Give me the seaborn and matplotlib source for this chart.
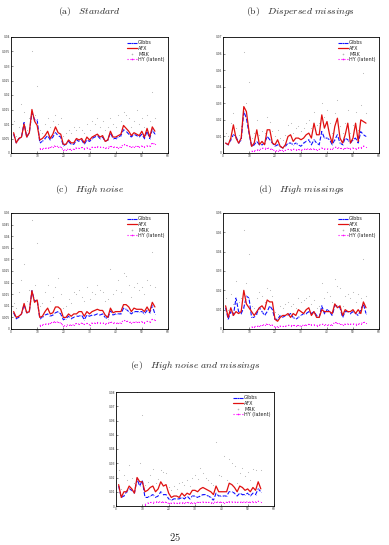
import numpy as np
import pandas as pd
import matplotlib
matplotlib.use('Agg')
import matplotlib.pyplot as plt
import seaborn as sns

sns.set_style('ticks')
plt.rcParams['font.family'] = ['DejaVu Sans']
plt.rcParams['mathtext.fontset'] = 'cm'

# series index (1..55), HY only from 11 on
t_all = list(range(1, 56))
t_hy = list(range(11, 56))

gibbs_a = [0.0065, 0.0035, 0.0050, 0.0055, 0.0105, 0.0055, 0.0070, 0.0140, 0.0115, 0.0115,
           0.0035, 0.0040, 0.0050, 0.0060, 0.0045, 0.0055, 0.0070, 0.0060, 0.0055, 0.0025,
           0.0030, 0.0040, 0.0030, 0.0030, 0.0045, 0.0040, 0.0045, 0.0030, 0.0045, 0.0040,
           0.0050, 0.0055, 0.0060, 0.0050, 0.0055, 0.0040, 0.0045, 0.0070, 0.0050, 0.0050,
           0.0055, 0.0060, 0.0080, 0.0075, 0.0065, 0.0055, 0.0065, 0.0060, 0.0055, 0.0065,
           0.0050, 0.0075, 0.0050, 0.0080, 0.0065]
afx_a = [0.0070, 0.0035, 0.0050, 0.0055, 0.0100, 0.0055, 0.0070, 0.0150, 0.0110, 0.0095,
         0.0045, 0.0050, 0.0060, 0.0075, 0.0050, 0.0065, 0.0090, 0.0070, 0.0065, 0.0030,
         0.0030, 0.0045, 0.0035, 0.0035, 0.0050, 0.0045, 0.0050, 0.0035, 0.0055, 0.0045,
         0.0055, 0.0060, 0.0065, 0.0055, 0.0060, 0.0040, 0.0045, 0.0075, 0.0055, 0.0055,
         0.0060, 0.0065, 0.0095, 0.0085, 0.0075, 0.0060, 0.0070, 0.0065, 0.0060, 0.0075,
         0.0055, 0.0085, 0.0055, 0.0090, 0.0075]
mrk_a = [0.011, 0.006, 0.009, 0.017, 0.014, 0.008, 0.012, 0.035, 0.013, 0.023,
         0.008, 0.007, 0.010, 0.012, 0.009, 0.011, 0.013, 0.010, 0.012, 0.006,
         0.007, 0.008, 0.007, 0.009, 0.008, 0.009, 0.008, 0.007, 0.010, 0.008,
         0.011, 0.010, 0.012, 0.009, 0.011, 0.008, 0.009, 0.012, 0.010, 0.009,
         0.013, 0.011, 0.014, 0.013, 0.012, 0.009, 0.011, 0.015, 0.010, 0.012,
         0.009, 0.013, 0.011, 0.021, 0.012]
hy_a = [0.0015, 0.0015, 0.0017, 0.0016, 0.0020, 0.0022, 0.0025, 0.0022, 0.0020, 0.0010,
        0.0011, 0.0014, 0.0012, 0.0013, 0.0018, 0.0016, 0.0019, 0.0015, 0.0018, 0.0013,
        0.0020, 0.0019, 0.0022, 0.0020, 0.0020, 0.0017, 0.0018, 0.0024, 0.0020, 0.0021,
        0.0018, 0.0020, 0.0030, 0.0026, 0.0024, 0.0020, 0.0022, 0.0023, 0.0022, 0.0024,
        0.0021, 0.0025, 0.0023, 0.0035, 0.0030]

gibbs_b = [0.006, 0.005, 0.008, 0.011, 0.010, 0.006, 0.008, 0.025, 0.021, 0.012,
           0.004, 0.005, 0.007, 0.005, 0.005, 0.006, 0.010, 0.008, 0.006, 0.004,
           0.005, 0.004, 0.003, 0.004, 0.006, 0.006, 0.005, 0.006, 0.005, 0.004,
           0.006, 0.007, 0.008, 0.005, 0.008, 0.006, 0.005, 0.013, 0.009, 0.009,
           0.008, 0.005, 0.008, 0.011, 0.006, 0.005, 0.009, 0.008, 0.006, 0.008,
           0.009, 0.006, 0.013, 0.011, 0.010]
afx_b = [0.006, 0.005, 0.009, 0.017, 0.009, 0.006, 0.009, 0.028, 0.025, 0.013,
         0.004, 0.006, 0.014, 0.005, 0.007, 0.005, 0.014, 0.014, 0.006, 0.005,
         0.008, 0.004, 0.003, 0.005, 0.010, 0.011, 0.007, 0.009, 0.009, 0.008,
         0.009, 0.011, 0.012, 0.009, 0.018, 0.011, 0.011, 0.023, 0.015, 0.019,
         0.011, 0.006, 0.016, 0.021, 0.009, 0.006, 0.011, 0.018, 0.006, 0.009,
         0.018, 0.007, 0.020, 0.019, 0.018]
mrk_b = [0.012, 0.010, 0.018, 0.024, 0.015, 0.011, 0.016, 0.061, 0.030, 0.043,
         0.009, 0.012, 0.020, 0.011, 0.013, 0.012, 0.022, 0.019, 0.013, 0.010,
         0.014, 0.009, 0.008, 0.011, 0.017, 0.018, 0.012, 0.015, 0.016, 0.013,
         0.015, 0.018, 0.020, 0.015, 0.025, 0.017, 0.018, 0.030, 0.022, 0.026,
         0.018, 0.012, 0.024, 0.032, 0.016, 0.012, 0.018, 0.026, 0.012, 0.017,
         0.025, 0.014, 0.029, 0.048, 0.024]
hy_b = [0.0010, 0.0012, 0.0020, 0.0018, 0.0030, 0.0026, 0.0032, 0.0025, 0.0022, 0.0012,
        0.0014, 0.0018, 0.0015, 0.0016, 0.0022, 0.0020, 0.0024, 0.0018, 0.0022, 0.0016,
        0.0024, 0.0022, 0.0026, 0.0024, 0.0024, 0.0020, 0.0022, 0.0030, 0.0025, 0.0026,
        0.0022, 0.0024, 0.0036, 0.0032, 0.0030, 0.0025, 0.0028, 0.0030, 0.0027, 0.0030,
        0.0026, 0.0032, 0.0030, 0.0042, 0.0036]

gibbs_c = [0.0070, 0.0045, 0.0050, 0.0065, 0.0105, 0.0070, 0.0075, 0.0165, 0.0120, 0.0125,
           0.0045, 0.0050, 0.0060, 0.0065, 0.0055, 0.0060, 0.0070, 0.0075, 0.0065, 0.0040,
           0.0045, 0.0055, 0.0045, 0.0050, 0.0055, 0.0055, 0.0060, 0.0040, 0.0060, 0.0055,
           0.0060, 0.0060, 0.0065, 0.0060, 0.0065, 0.0050, 0.0045, 0.0080, 0.0060, 0.0065,
           0.0065, 0.0065, 0.0090, 0.0085, 0.0075, 0.0065, 0.0075, 0.0075, 0.0075, 0.0075,
           0.0065, 0.0080, 0.0070, 0.0100, 0.0065]
afx_c = [0.0075, 0.0050, 0.0055, 0.0065, 0.0110, 0.0070, 0.0075, 0.0165, 0.0115, 0.0125,
         0.0050, 0.0055, 0.0075, 0.0090, 0.0065, 0.0070, 0.0095, 0.0095, 0.0085, 0.0050,
         0.0050, 0.0065, 0.0055, 0.0065, 0.0065, 0.0075, 0.0075, 0.0055, 0.0075, 0.0065,
         0.0075, 0.0080, 0.0085, 0.0080, 0.0080, 0.0060, 0.0050, 0.0090, 0.0070, 0.0075,
         0.0075, 0.0075, 0.0105, 0.0105, 0.0095, 0.0075, 0.0090, 0.0085, 0.0085, 0.0085,
         0.0075, 0.0095, 0.0075, 0.0115, 0.0095]
mrk_c = [0.011, 0.009, 0.016, 0.021, 0.028, 0.012, 0.017, 0.047, 0.019, 0.037,
         0.010, 0.011, 0.016, 0.019, 0.012, 0.014, 0.018, 0.022, 0.015, 0.009,
         0.010, 0.013, 0.011, 0.016, 0.015, 0.017, 0.014, 0.012, 0.018, 0.013,
         0.016, 0.015, 0.019, 0.017, 0.016, 0.012, 0.013, 0.026, 0.015, 0.017,
         0.021, 0.016, 0.024, 0.023, 0.019, 0.014, 0.018, 0.020, 0.017, 0.018,
         0.015, 0.021, 0.019, 0.033, 0.018]
hy_c = [0.0015, 0.0018, 0.0022, 0.0021, 0.0026, 0.0029, 0.0032, 0.0029, 0.0026, 0.0013,
        0.0015, 0.0019, 0.0016, 0.0018, 0.0024, 0.0021, 0.0025, 0.0020, 0.0024, 0.0018,
        0.0026, 0.0025, 0.0028, 0.0026, 0.0026, 0.0023, 0.0024, 0.0031, 0.0026, 0.0027,
        0.0024, 0.0026, 0.0038, 0.0034, 0.0032, 0.0027, 0.0029, 0.0030, 0.0029, 0.0032,
        0.0027, 0.0033, 0.0030, 0.0042, 0.0038]

gibbs_d = [0.011, 0.005, 0.009, 0.007, 0.016, 0.009, 0.008, 0.011, 0.017, 0.016,
           0.006, 0.006, 0.008, 0.011, 0.009, 0.007, 0.009, 0.012, 0.010, 0.005,
           0.005, 0.007, 0.006, 0.007, 0.007, 0.008, 0.006, 0.005, 0.006, 0.007,
           0.008, 0.008, 0.009, 0.008, 0.009, 0.007, 0.006, 0.012, 0.008, 0.010,
           0.009, 0.007, 0.012, 0.012, 0.011, 0.006, 0.009, 0.009, 0.008, 0.009,
           0.008, 0.007, 0.010, 0.013, 0.008]
afx_d = [0.012, 0.006, 0.011, 0.007, 0.009, 0.008, 0.009, 0.020, 0.013, 0.011,
         0.009, 0.007, 0.009, 0.011, 0.012, 0.010, 0.015, 0.014, 0.014, 0.005,
         0.004, 0.006, 0.007, 0.007, 0.008, 0.006, 0.008, 0.007, 0.010, 0.009,
         0.008, 0.010, 0.011, 0.007, 0.009, 0.006, 0.006, 0.010, 0.009, 0.009,
         0.009, 0.008, 0.013, 0.011, 0.012, 0.007, 0.010, 0.009, 0.009, 0.010,
         0.008, 0.010, 0.008, 0.014, 0.011]
mrk_d = [0.016, 0.010, 0.018, 0.013, 0.025, 0.014, 0.016, 0.051, 0.024, 0.039,
         0.012, 0.011, 0.016, 0.019, 0.017, 0.014, 0.021, 0.020, 0.017, 0.009,
         0.008, 0.012, 0.011, 0.013, 0.014, 0.012, 0.013, 0.011, 0.016, 0.014,
         0.015, 0.016, 0.017, 0.013, 0.015, 0.011, 0.012, 0.024, 0.016, 0.019,
         0.017, 0.014, 0.026, 0.022, 0.021, 0.012, 0.017, 0.018, 0.016, 0.019,
         0.014, 0.018, 0.016, 0.036, 0.017]
hy_d = [0.0010, 0.0012, 0.0015, 0.0014, 0.0020, 0.0022, 0.0026, 0.0022, 0.0020, 0.0010,
        0.0012, 0.0015, 0.0013, 0.0014, 0.0020, 0.0017, 0.0020, 0.0016, 0.0019, 0.0014,
        0.0021, 0.0020, 0.0024, 0.0022, 0.0022, 0.0018, 0.0020, 0.0026, 0.0022, 0.0023,
        0.0020, 0.0022, 0.0034, 0.0030, 0.0027, 0.0022, 0.0025, 0.0026, 0.0025, 0.0027,
        0.0023, 0.0028, 0.0026, 0.0036, 0.0031]

gibbs_e = [0.014, 0.006, 0.007, 0.010, 0.012, 0.011, 0.009, 0.019, 0.014, 0.018,
           0.006, 0.006, 0.007, 0.008, 0.006, 0.007, 0.010, 0.008, 0.008, 0.005,
           0.004, 0.005, 0.005, 0.005, 0.006, 0.005, 0.007, 0.005, 0.007, 0.007,
           0.006, 0.007, 0.008, 0.008, 0.007, 0.006, 0.004, 0.009, 0.007, 0.007,
           0.007, 0.007, 0.010, 0.010, 0.009, 0.007, 0.009, 0.008, 0.008, 0.009,
           0.007, 0.009, 0.008, 0.012, 0.010]
afx_e = [0.015, 0.006, 0.010, 0.010, 0.014, 0.012, 0.009, 0.020, 0.017, 0.017,
         0.010, 0.011, 0.013, 0.014, 0.010, 0.012, 0.017, 0.014, 0.015, 0.009,
         0.006, 0.007, 0.007, 0.006, 0.009, 0.007, 0.009, 0.008, 0.011, 0.011,
         0.010, 0.012, 0.013, 0.012, 0.011, 0.010, 0.008, 0.014, 0.010, 0.010,
         0.010, 0.010, 0.016, 0.015, 0.013, 0.010, 0.014, 0.013, 0.011, 0.012,
         0.010, 0.013, 0.011, 0.017, 0.012]
mrk_e = [0.025, 0.012, 0.022, 0.018, 0.029, 0.020, 0.016, 0.080, 0.030, 0.064,
         0.015, 0.017, 0.022, 0.026, 0.016, 0.019, 0.025, 0.024, 0.023, 0.013,
         0.011, 0.014, 0.012, 0.016, 0.017, 0.015, 0.018, 0.014, 0.020, 0.022,
         0.019, 0.027, 0.023, 0.020, 0.018, 0.016, 0.015, 0.045, 0.022, 0.021,
         0.035, 0.018, 0.033, 0.030, 0.028, 0.016, 0.023, 0.027, 0.021, 0.024,
         0.018, 0.026, 0.025, 0.064, 0.025]
hy_e = [0.0010, 0.0020, 0.0025, 0.0024, 0.0030, 0.0028, 0.0030, 0.0027, 0.0026, 0.0018,
        0.0020, 0.0022, 0.0019, 0.0021, 0.0024, 0.0022, 0.0025, 0.0021, 0.0024, 0.0020,
        0.0026, 0.0025, 0.0028, 0.0026, 0.0026, 0.0023, 0.0024, 0.0029, 0.0026, 0.0027,
        0.0024, 0.0026, 0.0031, 0.0029, 0.0028, 0.0026, 0.0027, 0.0028, 0.0027, 0.0029,
        0.0026, 0.0030, 0.0028, 0.0033, 0.0030]

titles = ['(a)', '(b)', '(c)', '(d)', '(e)']
subtitles = ['Standard', 'Dispersed missings', 'High noise', 'High missings',
             'High noise and missings']
ymax = [0.04, 0.07, 0.05, 0.06, 0.08]
ystep = [0.005, 0.01, 0.005, 0.01, 0.01]
xticks = [0, 10, 20, 30, 40, 50, 60]

panels = [
    (gibbs_a, afx_a, mrk_a, hy_a),
    (gibbs_b, afx_b, mrk_b, hy_b),
    (gibbs_c, afx_c, mrk_c, hy_c),
    (gibbs_d, afx_d, mrk_d, hy_d),
    (gibbs_e, afx_e, mrk_e, hy_e),
]

# axes rectangles in figure fraction, measured off the page
W, H = 389, 545
boxes_px = [(11, 37, 168, 153), (223, 37, 379, 153),
            (11, 213, 168, 329), (223, 213, 379, 329),
            (116, 392, 274, 506)]
title_y_px = [12, 12, 189, 189, 366]

fig = plt.figure(figsize=(W / 100, H / 100), dpi=100)
fig.patch.set_facecolor('white')


def fmt(v):
    s = ('%.3f' % v).rstrip('0').rstrip('.')
    return s


for i, (g, a, m, h) in enumerate(panels):
    l, t, r, b = boxes_px[i]
    ax = fig.add_axes([l / W, 1 - b / H, (r - l) / W, (b - t) / H])
    df = pd.DataFrame({'t': t_all, 'Gibbs': g, 'AFX': a, 'MRK': m})
    dh = pd.DataFrame({'t': t_hy, 'HY': h})

    sns.lineplot(data=df, x='t', y='Gibbs', ax=ax, color='#1010ff', linestyle='--',
                 linewidth=0.8, marker='.', markersize=1.2, markeredgewidth=0,
                 label='Gibbs')
    sns.lineplot(data=df, x='t', y='AFX', ax=ax, color='#e01010', linewidth=0.9,
                 label='AFX')
    sns.scatterplot(data=df, x='t', y='MRK', ax=ax, color='#b4b4b4', s=0.6,
                    linewidth=0, label='MRK')
    sns.lineplot(data=dh, x='t', y='HY', ax=ax, color='#ff00ff', linestyle=':',
                 linewidth=0.8, marker='.', markersize=1.6, markeredgewidth=0,
                 label='HY (latent)')

    ax.set_xlim(0, 60)
    ax.set_ylim(0, ymax[i])
    ax.set_xticks(xticks)
    ax.set_xticklabels([str(x) for x in xticks])
    yt = np.arange(0, ymax[i] + ystep[i] / 2, ystep[i])
    ax.set_yticks(yt)
    ax.set_yticklabels([fmt(v) for v in yt])
    ax.tick_params(labelsize=2.1, length=1.5, width=0.4, direction='in', pad=0.8,
                   colors='#333333')
    ax.set_xlabel('')
    ax.set_ylabel('')
    for sp in ax.spines.values():
        sp.set_linewidth(0.6)
        sp.set_color('black')

    ax.legend(loc='upper right', fontsize=3.5, frameon=False, handlelength=2.0,
              handletextpad=0.3, labelspacing=0.12, borderaxespad=0.3,
              markerscale=1.5)

    cx = (l + r) / 2 / W
    fig.text(cx, 1 - title_y_px[i] / H,
             r'$\mathrm{' + titles[i] + r'}\quad\mathit{' +
             subtitles[i].replace(' ', r'\ ') + '}$',
             ha='center', va='center', fontsize=7)

fig.text(175 / W, 1 - 537 / H, r'$\mathrm{25}$', ha='center', va='center',
         fontsize=7.5)

fig.savefig('out.png', dpi=100, facecolor='white')
